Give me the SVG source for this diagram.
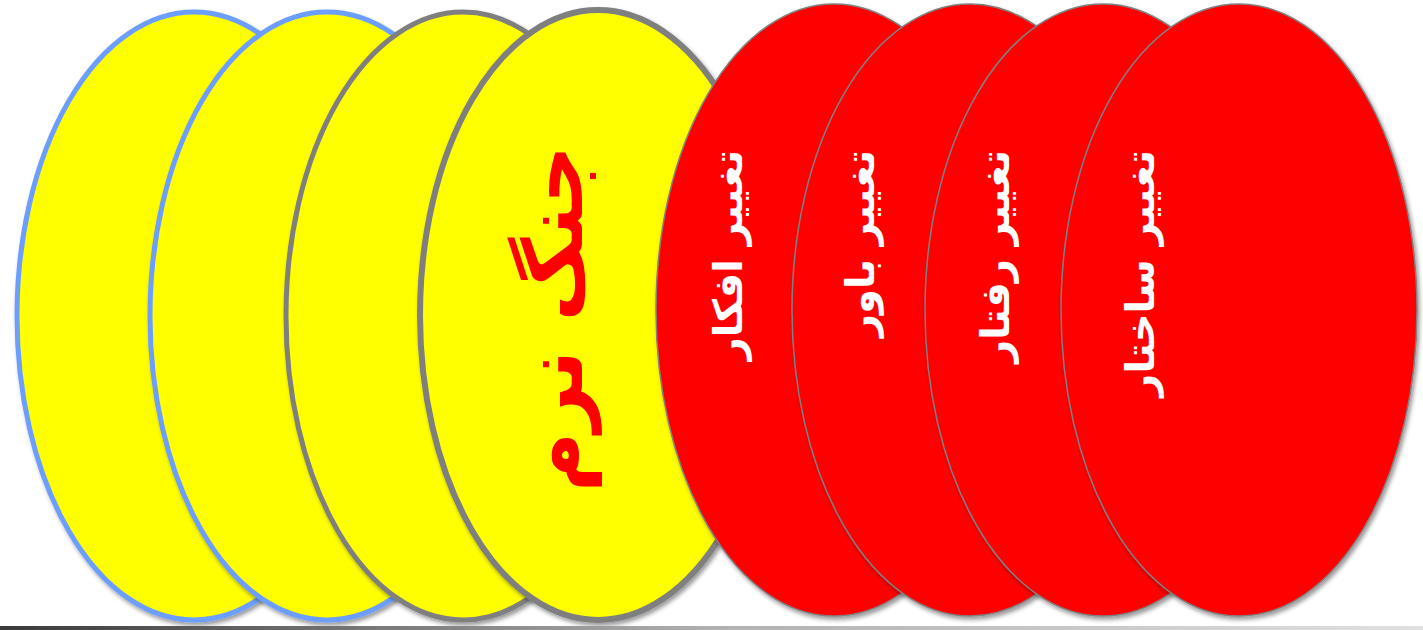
<svg xmlns="http://www.w3.org/2000/svg" width="1423" height="630" viewBox="0 0 1423 630">
<defs>
<filter id="sh" x="-10%" y="-10%" width="125%" height="125%">
<feDropShadow dx="2" dy="3" stdDeviation="2" flood-color="#000" flood-opacity="0.4"/>
</filter>
<linearGradient id="bar" x1="0" y1="0" x2="1" y2="0">
<stop offset="0" stop-color="#3a3a3a"/>
<stop offset="0.5" stop-color="#b0b0b0"/>
<stop offset="1" stop-color="#e0e0e0"/>
</linearGradient>
</defs>
<style>
.y{fill:#FFFF00;filter:url(#sh)}
.blue{stroke:#6C9EFF;stroke-width:5}
.gray{stroke:#7F7F7F;stroke-width:5}
.r{fill:#FF0000;stroke:#808080;stroke-width:1.5;filter:url(#sh)}
.t{font-family:"DejaVu Sans",sans-serif;font-weight:bold;dominant-baseline:central}
.tw{fill:#FFFFFF;font-size:40px}
.tr{fill:#FF0000;font-size:82px}
</style>
<rect x="0" y="0" width="1423" height="630" fill="#FFFFFF"/>
<g id="y1"><ellipse class="y blue" cx="194" cy="316" rx="177" ry="304"/></g>
<g id="y2"><ellipse class="y blue" cx="327" cy="316" rx="177" ry="304"/></g>
<g id="y3"><ellipse class="y gray" cx="463" cy="316" rx="177" ry="304"/></g>
<g id="y4"><ellipse class="y gray" style="stroke-width:6" cx="598" cy="315" rx="178" ry="305"/>
<text class="t tr" text-anchor="end" transform="translate(553,145) rotate(-90)">جنگ نرم</text></g>
<g id="r1"><ellipse class="r" cx="834" cy="310" rx="178" ry="306"/>
<text class="t tw" text-anchor="end" transform="translate(728,150) rotate(-90)">تغییر افکار</text></g>
<g id="r2"><ellipse class="r" cx="970" cy="310" rx="178" ry="306"/>
<text class="t tw" text-anchor="end" transform="translate(860,150) rotate(-90)">تغییر باور</text></g>
<g id="r3"><ellipse class="r" cx="1103" cy="310" rx="178" ry="306"/>
<text class="t tw" text-anchor="end" transform="translate(995,150) rotate(-90)">تغییر رفتار</text></g>
<g id="r4"><ellipse class="r" cx="1239" cy="310" rx="178" ry="306"/>
<text class="t tw" text-anchor="end" transform="translate(1140,150) rotate(-90)">تغییر ساختار</text></g>
<g id="connectors"></g>
<rect x="0" y="626" width="1423" height="4" fill="url(#bar)"/>
</svg>
